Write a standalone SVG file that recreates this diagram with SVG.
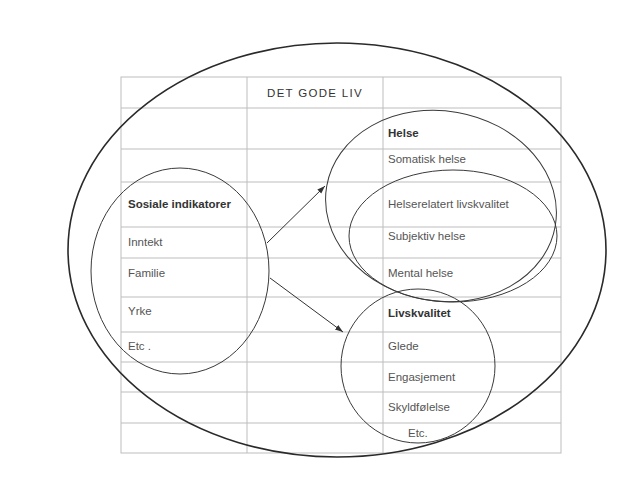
<svg xmlns="http://www.w3.org/2000/svg" width="627" height="504" viewBox="0 0 627 504">
  <defs>
    <style>
      .grid { stroke: #bdbdbd; stroke-width: 1; fill: none; }
      .ring { fill: none; stroke: #3a3a3a; stroke-width: 1; }
      .outer { fill: none; stroke: #2a2a2a; stroke-width: 1.6; }
      .lbl { font-family: "Liberation Sans", Arial, sans-serif; font-size: 11.5px; fill: #555; }
      .head { font-family: "Liberation Sans", Arial, sans-serif; font-size: 11.5px; font-weight: bold; fill: #333; }
      .title { font-family: "Liberation Sans", Arial, sans-serif; font-size: 11.5px; fill: #333; letter-spacing: 1.3px; }
      .conn { stroke: #333; stroke-width: 1; fill: none; }
    </style>
    <marker id="arrow" viewBox="0 0 10 10" refX="10" refY="5" markerWidth="8" markerHeight="8" orient="auto" markerUnits="userSpaceOnUse">
      <path d="M0,1.5 L10,5 L0,8.5 Z" fill="#333"/>
    </marker>
  </defs>

  <rect width="627" height="504" fill="#ffffff"/>

  <!-- table grid -->
  <g id="grid" class="grid">
    <rect x="121" y="77" width="440" height="376"/>
    <line x1="247" y1="77" x2="247" y2="453"/>
    <line x1="383" y1="77" x2="383" y2="453"/>
    <line x1="121" y1="108" x2="561" y2="108"/>
    <line x1="121" y1="149" x2="561" y2="149"/>
    <line x1="121" y1="182" x2="561" y2="182"/>
    <line x1="121" y1="227" x2="561" y2="227"/>
    <line x1="121" y1="258" x2="561" y2="258"/>
    <line x1="121" y1="297" x2="561" y2="297"/>
    <line x1="121" y1="332" x2="561" y2="332"/>
    <line x1="121" y1="362" x2="561" y2="362"/>
    <line x1="121" y1="392" x2="561" y2="392"/>
    <line x1="121" y1="423" x2="561" y2="423"/>
  </g>

  <!-- the good life: outer ellipse -->
  <g id="det-gode-liv">
    <ellipse class="outer" cx="337" cy="250" rx="269" ry="207"/>
    <text class="title" x="315" y="97" text-anchor="middle">DET GODE LIV</text>
  </g>

  <!-- social indicators -->
  <g id="sosiale-indikatorer">
    <ellipse class="ring" cx="180" cy="271" rx="89" ry="103"/>
    <text class="head" x="128" y="208">Sosiale indikatorer</text>
    <text class="lbl" x="128" y="246">Inntekt</text>
    <text class="lbl" x="128" y="277">Familie</text>
    <text class="lbl" x="128" y="315">Yrke</text>
    <text class="lbl" x="128" y="350">Etc .</text>
  </g>

  <!-- health -->
  <g id="helse">
    <ellipse class="ring" cx="441" cy="206" rx="116" ry="95" transform="rotate(10 441 206)"/>
    <text class="head" x="388" y="137">Helse</text>
    <text class="lbl" x="388" y="163">Somatisk helse</text>
  </g>

  <!-- health-related quality of life -->
  <g id="helserelatert-livskvalitet">
    <ellipse class="ring" cx="453" cy="236" rx="104" ry="66"/>
    <text class="lbl" x="388" y="208">Helserelatert livskvalitet</text>
    <text class="lbl" x="388" y="240">Subjektiv helse</text>
    <text class="lbl" x="388" y="277">Mental helse</text>
  </g>

  <!-- quality of life -->
  <g id="livskvalitet">
    <ellipse class="ring" cx="418" cy="366" rx="77" ry="77"/>
    <text class="head" x="388" y="317">Livskvalitet</text>
    <text class="lbl" x="388" y="350">Glede</text>
    <text class="lbl" x="388" y="381">Engasjement</text>
    <text class="lbl" x="388" y="411">Skyldfølelse</text>
    <text class="lbl" x="408" y="437">Etc.</text>
  </g>

  <!-- connectors -->
  <g id="connectors">
    <line class="conn" x1="267" y1="243" x2="325" y2="186" marker-end="url(#arrow)"/>
    <line class="conn" x1="270" y1="278" x2="343" y2="332" marker-end="url(#arrow)"/>
  </g>
</svg>
